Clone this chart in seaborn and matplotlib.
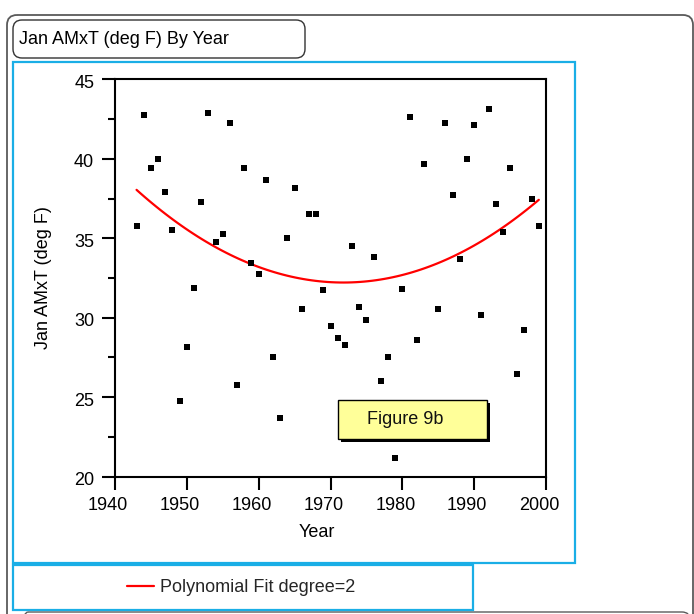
import numpy as np
import pandas as pd
import seaborn as sns
import matplotlib
matplotlib.use("Agg")
import matplotlib.pyplot as plt
import matplotlib.transforms as mtransforms
from matplotlib.patches import FancyBboxPatch, Rectangle
from matplotlib.ticker import MultipleLocator

# January average maximum temperature (deg F) per year
years = [1943, 1944, 1945, 1946, 1947, 1948, 1949, 1950, 1951, 1952,
         1953, 1954, 1955, 1956, 1957, 1958, 1959, 1960, 1961, 1962,
         1963, 1964, 1965, 1966, 1967, 1968, 1969, 1970, 1971, 1972,
         1973, 1974, 1975, 1976, 1977, 1978, 1979, 1980, 1981, 1982,
         1983, 1985, 1986, 1987, 1988, 1989, 1990, 1991, 1992, 1993,
         1994, 1995, 1996, 1997, 1998, 1999]
jan_amxt = [35.8, 42.75, 39.45, 40.0, 37.9, 35.55, 24.75, 28.15, 31.85, 37.25,
            42.9, 34.75, 35.25, 42.25, 25.8, 39.45, 33.45, 32.75, 38.65, 27.5,
            23.7, 35.0, 38.15, 30.55, 36.55, 36.55, 31.75, 29.45, 28.7, 28.3,
            34.5, 30.65, 29.85, 33.8, 26.05, 27.5, 21.15, 31.8, 42.65, 28.6,
            39.7, 30.55, 42.25, 37.75, 33.7, 40.0, 42.1, 30.15, 43.15, 37.15,
            35.4, 39.45, 26.45, 29.2, 37.5, 35.8]

title_text = "Jan AMxT (deg F) By Year"
x_label = "Year"
y_label = "Jan AMxT (deg F)"
fit_label = "Polynomial Fit degree=2"
note_text = "Figure 9b"
x_ticks = [1940, 1950, 1960, 1970, 1980, 1990, 2000]
y_ticks = [20, 25, 30, 35, 40, 45]

df = pd.DataFrame({x_label: years, y_label: jan_amxt})

sns.set_theme(style="ticks")
plt.rcParams["font.family"] = ["Liberation Sans", "DejaVu Sans"]

W, H = 694, 614
BLUE = "#1AAEE6"
fig = plt.figure(figsize=(W / 100, H / 100), dpi=100)
fig.patch.set_facecolor("white")


def rect(x0, y0, x1, y1):
    """Figure-fraction rectangle from pixel corners (origin top-left)."""
    return [x0 / W, 1 - y1 / H, (x1 - x0) / W, (y1 - y0) / H]


# Background layer in pixel coordinates for frames and boxes
bg = fig.add_axes([0, 0, 1, 1], zorder=0)
bg.set_xlim(0, W)
bg.set_ylim(H, 0)
bg.axis("off")

# Outer report frame
bg.add_patch(FancyBboxPatch((7, 15), 686, 660, boxstyle="round,pad=0,rounding_size=10",
                            fc="none", ec="#5a5a5a", lw=1.3))
# Next panel's frame peeking in at the bottom
bg.add_patch(FancyBboxPatch((20, 612), 670, 60, boxstyle="round,pad=0,rounding_size=8",
                            fc="none", ec="#5a5a5a", lw=1.0))
# Title box
bg.add_patch(FancyBboxPatch((13, 20), 292, 38, boxstyle="round,pad=0,rounding_size=9",
                            fc="none", ec="#333333", lw=1.0))
bg.text(19, 39.5, title_text, fontsize=13, ha="left", va="center", color="black")
# Plot frame and legend frame
bg.add_patch(Rectangle((13, 62), 562, 501, fc="none", ec=BLUE, lw=1.6))
bg.add_patch(Rectangle((13, 565), 460, 45, fc="none", ec=BLUE, lw=1.6))

# Main plot
ax = fig.add_axes(rect(115, 79.3, 546, 476.7), zorder=1)
sns.scatterplot(data=df, x=x_label, y=y_label, marker="s", color="black",
                s=13, linewidth=0, ax=ax, zorder=3)
sns.regplot(data=df, x=x_label, y=y_label, order=2, ci=None, scatter=False,
            color="red", line_kws={"lw": 1.6}, label=fit_label, ax=ax)

ax.set_xlim(x_ticks[0], x_ticks[-1])
ax.set_ylim(y_ticks[0], y_ticks[-1])
ax.set_xticks(x_ticks)
ax.set_yticks(y_ticks)
ax.yaxis.set_minor_locator(MultipleLocator(2.5))
ax.tick_params(axis="both", which="major", direction="out", length=9.5, width=1.5,
               color="black", labelsize=13, labelcolor="black")
ax.tick_params(axis="x", pad=5)
ax.tick_params(axis="y", pad=5.5)
ax.tick_params(axis="y", which="minor", direction="out", length=5, width=1.5, color="black")
for side in ["left", "right", "top", "bottom"]:
    ax.spines[side].set_visible(True)
    ax.spines[side].set_color("black")
    ax.spines[side].set_linewidth(1.5)

shift = mtransforms.ScaledTranslation(-7 / 100, 0, fig.dpi_scale_trans)
for lab in ax.get_xticklabels():
    lab.set_transform(lab.get_transform() + shift)
down = mtransforms.ScaledTranslation(0, -2 / 100, fig.dpi_scale_trans)
for lab in ax.get_yticklabels():
    lab.set_transform(lab.get_transform() + down)

ax.set_xlabel(x_label, fontsize=13, color="black")
ax.set_ylabel(y_label, fontsize=13, color="black")
ax.xaxis.set_label_coords((317 - 115) / 431, (476.7 - 524) / 397.4)
ax.yaxis.set_label_coords((52 - 115) / 431, 0.5)

# Legend below the plot, inside its own frame
fit_lines = [ln for ln in ax.get_lines() if ln.get_label() == fit_label]
leg = fig.legend(fit_lines, [fit_label], loc="center left",
                 bbox_to_anchor=(127 / W, 1 - 588 / H),
                 frameon=False, fontsize=13, handlelength=1.5, handletextpad=0.35,
                 borderpad=0, borderaxespad=0)
leg.set_zorder(10)

# Annotation box on top of the plot
fg = fig.add_axes([0, 0, 1, 1], zorder=2)
fg.set_xlim(0, W)
fg.set_ylim(H, 0)
fg.axis("off")
fg.add_patch(Rectangle((341, 403), 149, 39, fc="black", ec="none"))
fg.add_patch(Rectangle((338, 400), 149, 39, fc="#FFFF99", ec="black", lw=1.0))
fg.text(405, 420, note_text, fontsize=13, ha="center", va="center", color="#111111")

fig.savefig("out.png", dpi=100, facecolor="white")
